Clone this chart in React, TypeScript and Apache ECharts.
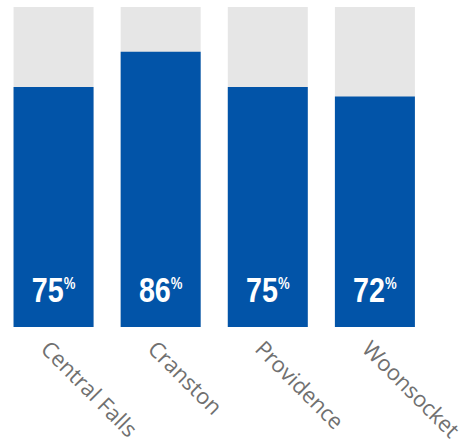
import React, { useEffect, useRef } from "react";
import * as echarts from "echarts";

const categories = ["Central Falls", "Cranston", "Providence", "Woonsocket"];
const values = [75, 86, 75, 72];

const labelFont = "'Liberation Sans', Arial, sans-serif";

export default function App() {
  const ref = useRef<HTMLDivElement>(null);
  useEffect(() => {
    document.body.style.margin = "0";
    const chart = echarts.init(ref.current!, null, { renderer: "svg" });
    chart.setOption({
      animation: false,
      grid: { left: 0, right: 35, top: 7, bottom: 119, containLabel: false },
      xAxis: {
        type: "category",
        data: categories,
        axisLine: { show: false },
        axisTick: { show: false },
        axisLabel: {
          rotate: -45,
          interval: 0,
          margin: 9,
          verticalAlign: "top",
          fontSize: 22,
          fontFamily: "'Open Sans', 'Noto Sans', sans-serif",
          fontWeight: "normal",
          color: "#707070",
        },
      },
      yAxis: {
        type: "value",
        min: 0,
        max: 100,
        show: false,
        splitLine: { show: false },
      },
      series: [
        {
          type: "bar",
          data: values,
          barWidth: 80,
          showBackground: true,
          backgroundStyle: { color: "#e6e6e6" },
          itemStyle: { color: "#0254a8" },
        },
        {
          type: "custom",
          data: values.map((v, i) => [i, v]),
          encode: { x: 0, y: 1 },
          z: 10,
          renderItem: (params: any, api: any) => {
            const p = api.coord([api.value(0), 0]);
            const v = api.value(1);
            return {
              type: "text",
              x: p[0],
              y: p[1] - 24,
              scaleX: 0.82,
              style: {
                text: `{n|${v}}{p|%}`,
                align: "center",
                verticalAlign: "bottom",
                rich: {
                  n: {
                    fontSize: 35,
                    fontWeight: "bold",
                    fontFamily: labelFont,
                    fill: "#fff",
                    lineHeight: 27,
                  },
                  p: {
                    fontSize: 16,
                    fontWeight: "bold",
                    fontFamily: labelFont,
                    fill: "#fff",
                    lineHeight: 27,
                    verticalAlign: "top",
                  },
                },
              },
            };
          },
        },
      ],
    });
    return () => chart.dispose();
  }, []);
  return <div ref={ref} style={{ width: 466, height: 446, overflow: "hidden" }} />;
}
